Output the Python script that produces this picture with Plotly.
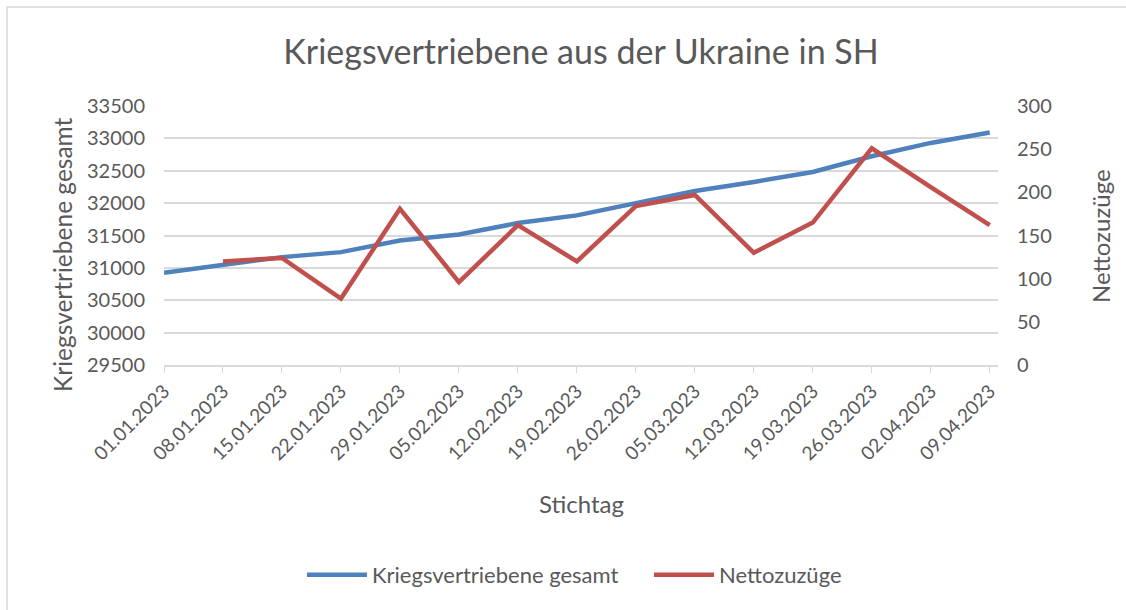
import plotly.graph_objects as go

dates = ["01.01.2023", "08.01.2023", "15.01.2023", "22.01.2023", "29.01.2023",
         "05.02.2023", "12.02.2023", "19.02.2023", "26.02.2023", "05.03.2023",
         "12.03.2023", "19.03.2023", "26.03.2023", "02.04.2023", "09.04.2023"]
gesamt = [30924, 31053, 31166, 31243, 31424, 31517, 31692, 31811, 31992,
          32187, 32327, 32481, 32724, 32930, 33091]
netto = [None, 120, 124, 77, 181, 96, 162, 120, 184, 197, 130, 165, 251, 206, 162]

left_ticks = list(range(29500, 33501, 500))
right_ticks = list(range(0, 301, 50))

FONT = "Lato, 'Open Sans', sans-serif"
GREY = "#595959"
GRID = "#D9D9D9"
x_idx = list(range(len(dates)))

# plot area in pixels: x 164..998, y 106..365
L, R, T, B = 164, 128, 106, 245
W, H = 1126, 610
PW, PH = W - L - R, H - T - B

def px_x(x):
    return (x - L) / PW

def px_y(y):
    return (H - B - y) / PH

fig = go.Figure()
fig.add_trace(go.Scatter(x=x_idx, y=gesamt, name="Kriegsvertriebene gesamt",
                         mode="lines", line=dict(color="#4F81BD", width=4.5),
                         yaxis="y"))
fig.add_trace(go.Scatter(x=x_idx, y=netto, name="Nettozuzüge",
                         mode="lines", line=dict(color="#C0504D", width=4.5),
                         yaxis="y2", connectgaps=False))

fig.update_layout(
    width=W, height=H,
    paper_bgcolor="white", plot_bgcolor="white",
    margin=dict(l=L, r=R, t=T, b=B, autoexpand=False),
    font=dict(family=FONT, color=GREY, size=18),
    title=dict(text="Kriegsvertriebene aus der Ukraine in SH", x=0.5, xanchor="center",
               xref="paper",
               y=1 - 52 / H, yanchor="middle", font=dict(size=34, color=GREY, family=FONT)),
    xaxis=dict(range=[0, 14.14], tickmode="array", tickvals=x_idx, ticktext=dates,
               tickangle=-45, tickfont=dict(size=19, color=GREY),
               showgrid=False, zeroline=False, showline=True, linecolor=GRID,
               linewidth=1.5, ticks="outside", ticklen=6, tickcolor=GRID,
               automargin=False),
    yaxis=dict(range=[29500, 33500], tickmode="array", tickvals=left_ticks,
               ticktext=[str(v) for v in left_ticks],
               showgrid=True, gridcolor=GRID, gridwidth=1.5, zeroline=False,
               tickfont=dict(size=20, color=GREY), ticks="", ticklabelstandoff=18,
               automargin=False),
    yaxis2=dict(range=[0, 300], tickmode="array", tickvals=right_ticks,
                ticktext=[str(v) for v in right_ticks], overlaying="y",
                side="right", showgrid=False, zeroline=False,
                tickfont=dict(size=20, color=GREY), ticklabelstandoff=18,
                automargin=False),
    legend=dict(orientation="h", x=px_x(302), xanchor="left", y=px_y(575), yanchor="middle",
                font=dict(size=22, color=GREY), itemwidth=60,
                entrywidth=272, entrywidthmode="pixels"),
    showlegend=True,
)

fig.add_annotation(text="Stichtag", xref="paper", yref="paper", x=px_x(581), y=px_y(503),
                   xanchor="center", yanchor="middle", showarrow=False,
                   font=dict(size=24, color=GREY, family=FONT))
fig.add_annotation(text="Kriegsvertriebene gesamt", xref="paper", yref="paper",
                   x=px_x(62), y=px_y(255), xanchor="center", yanchor="middle",
                   textangle=-90, showarrow=False,
                   font=dict(size=24.5, color=GREY, family=FONT))
fig.add_annotation(text="Nettozuzüge", xref="paper", yref="paper",
                   x=px_x(1100), y=px_y(236), xanchor="center", yanchor="middle",
                   textangle=-90, showarrow=False,
                   font=dict(size=24, color=GREY, family=FONT))

fig.add_shape(type="rect", xref="paper", yref="paper",
              x0=px_x(7), x1=px_x(1140), y0=px_y(630), y1=px_y(7),
              line=dict(color=GRID, width=1.5), layer="below")

fig.write_html("out.html", config={"displayModeBar": False},
               post_script="document.body.style.margin='0';document.body.style.overflow='hidden';")
